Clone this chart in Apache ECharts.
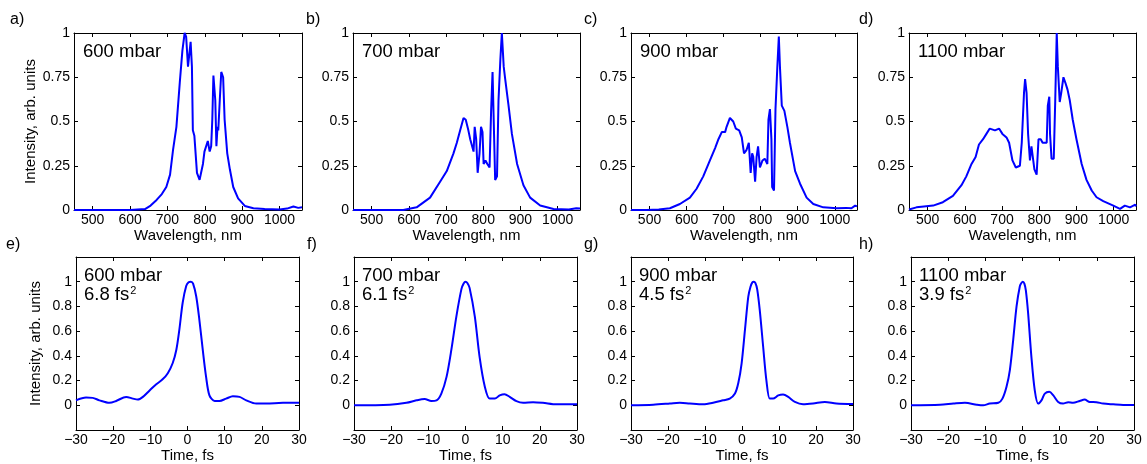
<!DOCTYPE html>
<html>
<head>
<meta charset="utf-8">
<script src="https://cdn.jsdelivr.net/npm/echarts@6/dist/echarts.min.js"></script>
<style>
  html, body { margin: 0; padding: 0; background: #fff; }
  #chart { width: 1147px; height: 464px; }
</style>
</head>
<body>
<div id="chart"></div>
<script>
// Panel captions and tick values
const PRESSURES = ['600 mbar', '700 mbar', '900 mbar', '1100 mbar'];
const GDD = ['6.8', '6.1', '4.5', '3.9'];
const LETTERS_TOP = ['a)', 'b)', 'c)', 'd)'];
const LETTERS_BOTTOM = ['e)', 'f)', 'g)', 'h)'];
const WL_TICKS = [500, 600, 700, 800, 900, 1000];

// Spectra: wavelength (nm) and normalized intensity
const wl600 = [450, 600, 640, 655, 671, 685, 697, 707, 715, 724, 733, 740, 746, 750, 755, 760, 762, 765.5, 768, 772, 779, 786, 790, 795, 799, 803.5, 808, 813, 817, 820, 823, 825, 828, 831, 834, 836, 840, 844, 849, 853, 860, 867, 876, 889, 907, 930, 960, 1000, 1020, 1037, 1050, 1060];
const sp600 = [0, 0, 0.005, 0.025, 0.057, 0.09, 0.13, 0.2, 0.34, 0.47, 0.72, 0.9, 1.0, 0.98, 0.81, 0.80, 0.95, 0.81, 0.45, 0.42, 0.21, 0.17, 0.21, 0.26, 0.33, 0.32, 0.39, 0.33, 0.36, 0.51, 0.76, 0.75, 0.62, 0.36, 0.47, 0.45, 0.62, 0.78, 0.75, 0.51, 0.32, 0.23, 0.13, 0.066, 0.023, 0.01, 0.005, 0.003, 0.008, 0.02, 0.012, 0.015];

const wl700 = [450, 585, 621, 657, 684, 702, 720, 729, 738, 747, 753, 760, 765, 769, 774, 777, 781, 785, 790, 794, 798, 801, 806, 811, 817, 821, 825, 829, 832, 837, 841, 846, 850, 855, 859, 868, 877, 891, 908, 926, 953, 989, 1030, 1050, 1060];
const sp700 = [0, 0, 0.015, 0.07, 0.16, 0.22, 0.32, 0.38, 0.45, 0.52, 0.51, 0.45, 0.40, 0.40, 0.33, 0.47, 0.40, 0.21, 0.32, 0.47, 0.44, 0.26, 0.28, 0.26, 0.24, 0.55, 0.78, 0.43, 0.17, 0.19, 0.62, 0.85, 1.0, 0.81, 0.74, 0.59, 0.43, 0.26, 0.14, 0.07, 0.025, 0.006, 0.003, 0.01, 0.008];

const wl900 = [450, 492, 525, 555, 582, 609, 627, 645, 663, 677, 686, 695, 704, 708, 717, 726, 733, 742, 749, 755, 762, 768, 773, 777, 780, 785, 789, 793, 798, 805, 811, 818, 821, 825, 829, 831, 836, 840, 845, 849, 852, 857, 864, 872, 879, 893, 906, 924, 942, 969, 1005, 1030, 1045, 1055, 1060];
const sp900 = [0, 0, 0.003, 0.01, 0.034, 0.07, 0.12, 0.19, 0.28, 0.35, 0.40, 0.44, 0.44, 0.47, 0.52, 0.50, 0.46, 0.45, 0.41, 0.32, 0.34, 0.38, 0.21, 0.32, 0.30, 0.16, 0.30, 0.36, 0.24, 0.28, 0.29, 0.26, 0.51, 0.57, 0.40, 0.13, 0.11, 0.57, 0.81, 0.98, 0.81, 0.59, 0.56, 0.47, 0.38, 0.22, 0.15, 0.07, 0.034, 0.015, 0.01, 0.012, 0.01, 0.025, 0.02];

const wl1100 = [450, 452, 470, 490, 515, 541, 568, 591, 604, 618, 629, 638, 649, 658, 667, 681, 692, 701, 712, 719, 728, 737, 748, 753, 759, 762, 766, 770, 775, 779, 784, 787, 793, 798, 804, 809, 814, 820, 823, 827, 829, 833, 839, 843, 847, 850, 855, 859, 865, 870, 876, 882, 890, 900, 914, 927, 941, 954, 972, 999, 1017, 1030, 1044, 1058, 1060];
const sp1100 = [0.003, 0.006, 0.015, 0.02, 0.025, 0.044, 0.08, 0.14, 0.19, 0.26, 0.30, 0.37, 0.40, 0.43, 0.46, 0.45, 0.46, 0.43, 0.41, 0.38, 0.28, 0.24, 0.25, 0.38, 0.66, 0.74, 0.66, 0.43, 0.28, 0.36, 0.35, 0.23, 0.20, 0.40, 0.40, 0.38, 0.39, 0.38, 0.59, 0.64, 0.43, 0.29, 0.29, 0.62, 1.0, 0.81, 0.61, 0.66, 0.75, 0.72, 0.68, 0.62, 0.51, 0.40, 0.26, 0.17, 0.11, 0.072, 0.05, 0.025, 0.006, 0.025, 0.015, 0.03, 0.02];

// Reconstructed pulses: time (fs) and normalized intensity
const t600 = [-30, -27.3, -25.5, -23.7, -21, -19.2, -16.5, -14.7, -13.4, -12, -10.2, -8.4, -6.7, -5.3, -4, -3, -2.2, -1.3, -0.35, 0.3, 0.9, 1.5, 2.35, 3.2, 4.1, 5.0, 5.9, 7.3, 8.6, 10.4, 12.2, 14, 15.8, 18.5, 21.2, 25.7, 30];
const p600 = [0.04, 0.062, 0.06, 0.04, 0.02, 0.035, 0.068, 0.054, 0.046, 0.068, 0.12, 0.17, 0.21, 0.26, 0.34, 0.45, 0.61, 0.83, 0.965, 0.995, 1.0, 0.985, 0.88, 0.69, 0.45, 0.23, 0.08, 0.035, 0.035, 0.054, 0.073, 0.068, 0.04, 0.014, 0.014, 0.02, 0.02];

const t700 = [-30, -20.4, -15.9, -13.2, -11, -9.2, -7.8, -6.5, -5.1, -3.8, -2.45, -1.1, -0.5, 0, 0.5, 1.1, 2.5, 3.8, 5.2, 6.5, 7.9, 9.2, 10.5, 11.9, 13.7, 15.5, 18.2, 20.8, 24.5, 30];
const p700 = [0, 0.005, 0.02, 0.04, 0.05, 0.035, 0.04, 0.095, 0.23, 0.45, 0.72, 0.94, 0.985, 1.0, 0.99, 0.95, 0.72, 0.39, 0.15, 0.054, 0.054, 0.08, 0.09, 0.068, 0.033, 0.02, 0.025, 0.02, 0.008, 0.008];

const t900 = [-30, -24, -19.5, -16.8, -14.1, -10.5, -7.8, -5.1, -3.3, -1.9, -1.0, -0.1, 0.8, 1.7, 2.3, 2.8, 3.2, 3.6, 4.1, 4.8, 5.7, 6.6, 7.5, 8.4, 9.8, 11.1, 12.5, 14.3, 16.5, 19.2, 22.4, 25.5, 30];
const p900 = [0, 0.005, 0.014, 0.02, 0.014, 0.008, 0.02, 0.04, 0.054, 0.095, 0.18, 0.34, 0.61, 0.88, 0.96, 0.995, 1.0, 0.99, 0.94, 0.77, 0.48, 0.2, 0.054, 0.054, 0.08, 0.087, 0.068, 0.027, 0.008, 0.014, 0.027, 0.014, 0.01];

const t1100 = [-30, -22.2, -18.6, -15.5, -12.3, -10.6, -8.8, -6.5, -5.4, -4.3, -3.4, -2.5, -1.6, -0.7, -0.3, 0.1, 0.5, 0.9, 1.5, 2.4, 3.3, 4.2, 5.1, 6.0, 7.2, 8.3, 9.6, 10.9, 12.3, 13.6, 15.4, 16.7, 18.1, 19.9, 21.7, 24.4, 27.1, 30];
const p1100 = [0, 0.005, 0.014, 0.02, 0.005, 0, 0.014, 0.02, 0.054, 0.15, 0.285, 0.53, 0.80, 0.965, 0.99, 1.0, 0.985, 0.93, 0.75, 0.39, 0.12, 0.014, 0.04, 0.095, 0.11, 0.08, 0.027, 0.014, 0.025, 0.02, 0.035, 0.046, 0.027, 0.025, 0.014, 0.008, 0.003, 0.003];

const SPECTRA = [[wl600, sp600], [wl700, sp700], [wl900, sp900], [wl1100, sp1100]];
const PULSES = [[t600, p600], [t700, p700], [t900, p900], [t1100, p1100]];

// Plot frames (pixels)
const TOP_FRAMES = [
  { left: 74, top: 33, width: 228, height: 177 },
  { left: 353, top: 33, width: 227, height: 177 },
  { left: 631, top: 33, width: 226, height: 177 },
  { left: 909, top: 33, width: 227, height: 177 }
];
const BOTTOM_FRAMES = [
  { left: 76, top: 257, width: 223, height: 173 },
  { left: 354, top: 257, width: 223, height: 173 },
  { left: 631, top: 257, width: 222, height: 173 },
  { left: 911, top: 257, width: 223, height: 173 }
];

const FONT = '"Liberation Sans", Arial, Helvetica, sans-serif';
const INK = '#000';
const BLUE = '#0000ff';

const zip = (xs, ys) => xs.map((x, i) => [x, ys[i]]);
const minusFmt = v => (v < 0 ? '\u2212' + Math.abs(v) : String(v));
const plainFmt = v => String(v);

const grids = [], xAxes = [], yAxes = [], series = [], graphics = [];

const lineStyle = { show: true, onZero: false, lineStyle: { color: INK, width: 1 } };
const tickStyle = extra => Object.assign({ show: true, inside: true, length: 4, lineStyle: { color: INK, width: 1 } }, extra || {});
const labelStyle = extra => Object.assign({ color: INK, fontSize: 14, fontFamily: FONT }, extra || {});
const nameStyle = { color: INK, fontSize: 15, fontFamily: FONT };

function addPanel(frame, xSpec, ySpec, data, smooth, yName, yNameGap) {
  const g = grids.length;
  grids.push(Object.assign({ containLabel: false, outerBoundsMode: 'none' }, frame));
  const xBase = { type: 'value', gridIndex: g, min: xSpec.min, max: xSpec.max, splitLine: { show: false }, axisLine: lineStyle };
  if (xSpec.interval) xBase.interval = xSpec.interval;
  xAxes.push(Object.assign({}, xBase, {
    position: 'bottom',
    axisTick: tickStyle(xSpec.ticks ? { customValues: xSpec.ticks } : null),
    axisLabel: labelStyle(Object.assign({ margin: 3, showMinLabel: true, showMaxLabel: true, formatter: xSpec.formatter },
      xSpec.ticks ? { customValues: xSpec.ticks } : {})),
    name: xSpec.name, nameLocation: 'middle', nameGap: 16, nameTextStyle: nameStyle
  }));
  xAxes.push(Object.assign({}, xBase, {
    position: 'top',
    axisTick: tickStyle(xSpec.ticks ? { customValues: xSpec.ticks } : null),
    axisLabel: { show: false }
  }));
  const yBase = { type: 'value', gridIndex: g, min: ySpec.min, max: ySpec.max, interval: ySpec.interval, splitLine: { show: false }, axisLine: lineStyle };
  yAxes.push(Object.assign({}, yBase, {
    position: 'left',
    axisTick: tickStyle(),
    axisLabel: labelStyle({ margin: 4, showMinLabel: true, showMaxLabel: true, formatter: ySpec.formatter }),
    name: yName || '', nameLocation: 'middle', nameGap: yNameGap || 30, nameTextStyle: nameStyle
  }));
  yAxes.push(Object.assign({}, yBase, {
    position: 'right',
    axisTick: tickStyle(),
    axisLabel: { show: false }
  }));
  series.push({
    type: 'line', xAxisIndex: 2 * g, yAxisIndex: 2 * g,
    data: data, showSymbol: false, symbol: 'none', smooth: smooth,
    lineStyle: { color: BLUE, width: 2 }, silent: true, animation: false
  });
}

const wlX = { min: 450, max: 1060, ticks: WL_TICKS, name: 'Wavelength, nm', formatter: plainFmt };
const specY = { min: 0, max: 1, interval: 0.25, formatter: plainFmt };
const timeX = { min: -30, max: 30, interval: 10, name: 'Time, fs', formatter: minusFmt };
const pulseY = {
  min: -0.2, max: 1.2, interval: 0.2,
  formatter: v => (v < -1e-6 || v > 1 + 1e-6) ? '' : String(Math.round(v * 10) / 10)
};

SPECTRA.forEach((s, i) => {
  addPanel(TOP_FRAMES[i], wlX, specY, zip(s[0], s[1]), false, i === 0 ? 'Intensity, arb. units' : '', 34);
});
PULSES.forEach((p, i) => {
  addPanel(BOTTOM_FRAMES[i], timeX, pulseY, zip(p[0], p[1]), 0.3, i === 0 ? 'Intensity, arb. units' : '', 33);
});

// Panel letters and in-plot captions
const letterX = [10, 306, 584, 859];
const letterXBottom = [6, 307, 584, 859];
LETTERS_TOP.forEach((t, i) => graphics.push({
  type: 'text', left: letterX[i], top: 12,
  style: { text: t, fill: INK, fontSize: 16, fontFamily: FONT }
}));
LETTERS_BOTTOM.forEach((t, i) => graphics.push({
  type: 'text', left: letterXBottom[i], top: 237,
  style: { text: t, fill: INK, fontSize: 16, fontFamily: FONT }
}));
PRESSURES.forEach((t, i) => {
  graphics.push({
    type: 'text', left: TOP_FRAMES[i].left + 9, top: 42,
    style: { text: t, fill: INK, fontSize: 18.5, fontFamily: FONT }
  });
  graphics.push({
    type: 'text', left: BOTTOM_FRAMES[i].left + 8, top: 266,
    style: {
      text: t + '\n' + GDD[i] + ' fs{sup|2}', fill: INK, fontSize: 18.5, lineHeight: 19, fontFamily: FONT,
      rich: { sup: { fontSize: 11, fontFamily: FONT, fill: INK, verticalAlign: 'top', lineHeight: 19, padding: [0, 0, 0, 1] } }
    }
  });
});

const chart = echarts.init(document.getElementById('chart'), null, { renderer: 'canvas' });
chart.setOption({
  animation: false,
  backgroundColor: '#fff',
  textStyle: { fontFamily: FONT },
  grid: grids,
  xAxis: xAxes,
  yAxis: yAxes,
  series: series,
  graphic: graphics
});
</script>
</body>
</html>
